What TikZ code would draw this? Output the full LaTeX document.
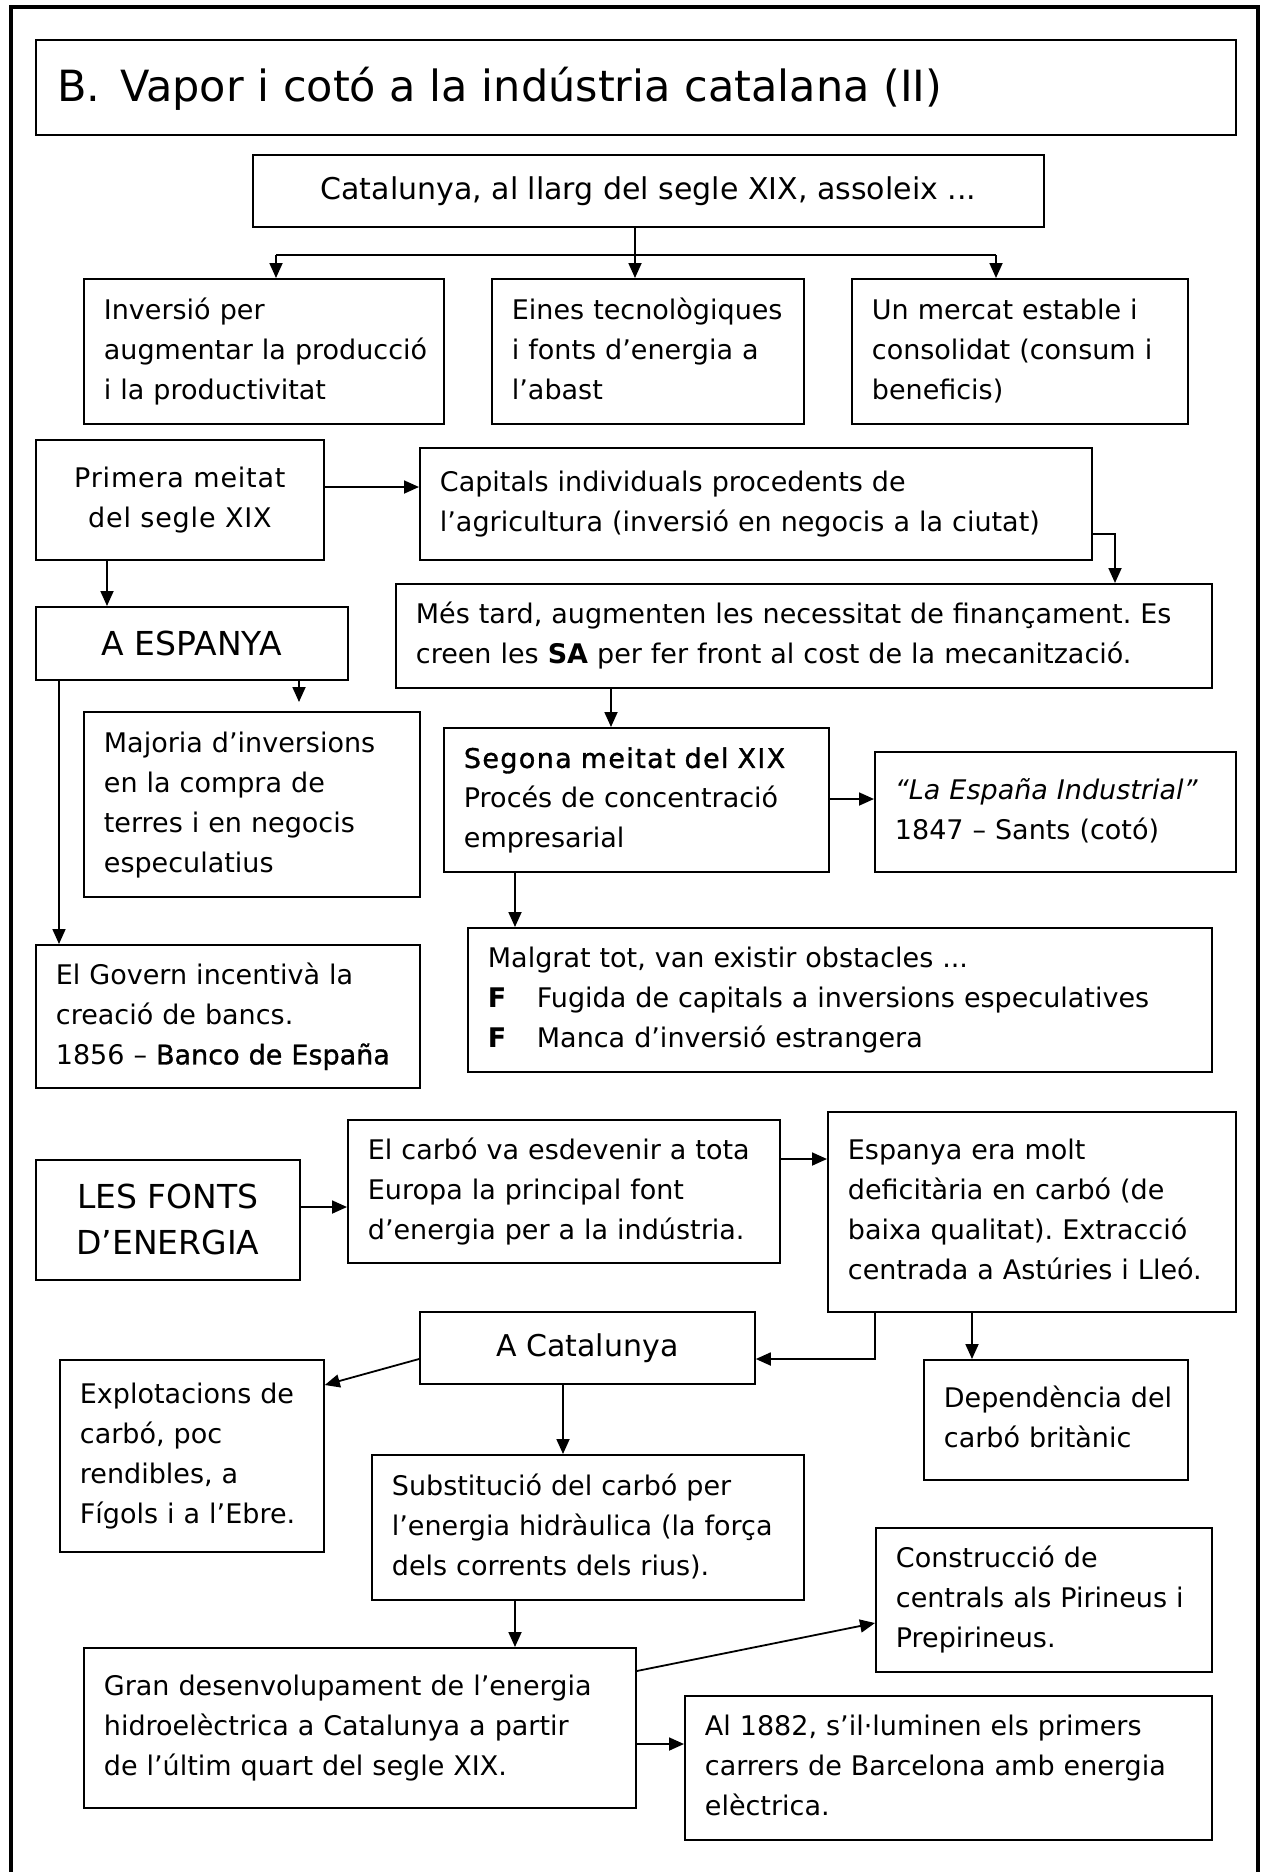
\documentclass[tikz,border=0pt]{standalone}
\usepackage{fontspec}
\setmainfont{DejaVu Sans}
\newfontfamily\semib[FakeBold=1.2]{DejaVu Sans}
\newfontfamily\semibsp[FakeBold=1.2,LetterSpace=5]{DejaVu Sans}
\newfontfamily\spc[LetterSpace=3]{DejaVu Sans}
\usetikzlibrary{arrows.meta}
\newcommand\bodyfont{\fontsize{27}{40}\selectfont}
\newcommand\bigfont{\fontsize{30}{45}\selectfont}
\newcommand\capsfont{\fontsize{33}{46}\selectfont}
\newcommand\titlefont{\fontsize{43}{50}\selectfont}
\newcommand\tb[1]{\begin{tabular}{@{}l@{}}#1\end{tabular}}
\newcommand\bF{\makebox[49pt][l]{\textbf{F}}}
\begin{document}
\frenchspacing
\begin{tikzpicture}[x=1pt,y=-1pt,
  box/.style={draw, line width=1.8pt, anchor=north west, inner xsep=20pt, inner ysep=0pt, align=left, font=\bodyfont},
  cbox/.style={draw, line width=1.8pt, anchor=north west, inner sep=0pt, align=center, font=\bodyfont},
  conn/.style={line width=1.8pt},
  arr/.style={line width=1.8pt, -{Triangle[length=15pt,width=13pt]}}]
\useasboundingbox (0,0) rectangle (1261,1872);
% outer frame (open at the bottom)
\draw[line width=3.5pt] (11,1880) -- (11,7) -- (1258,7) -- (1258,1880);

% title
\node[draw, line width=1.8pt, anchor=north west, minimum width=1200pt, minimum height=95pt, inner sep=0pt] (titlebox) at (35,39) {};
\node[anchor=base west, inner sep=0pt, font=\titlefont] (title) at (57,101) {B.\hspace{6pt} Vapor i cotó a la indústria catalana (II)};

% top part
\node[cbox, font=\bigfont, minimum width=791pt, minimum height=72pt] (cat) at (252,154) {Catalunya, al llarg del segle XIX, assoleix ...};
\node[box, minimum width=360pt, minimum height=145pt, text width=320pt] (inv) at (83,278) {\tb{Inversió per\\augmentar la producció\\i la productivitat}};
\node[box, minimum width=312pt, minimum height=145pt, text width=272pt] (eines) at (491,278) {\tb{Eines tecnològiques\\i fonts d’energia a\\l’abast}};
\node[box, minimum width=336pt, minimum height=145pt, text width=296pt] (mercat) at (851,278) {\tb{Un mercat estable i\\consolidat (consum i\\beneficis)}};

\coordinate (tl) at (276,255);
\coordinate (tm) at (635,255);
\coordinate (tr) at (996,255);
\draw[conn] (tl) -- (tr);
\draw[arr] (cat.south -| tm) -- (eines.north -| tm);
\draw[arr] (tl) -- (inv.north -| tl);
\draw[arr] (tr) -- (mercat.north -| tr);

% first half
\node[cbox, font=\bodyfont\spc, minimum width=288pt, minimum height=120pt] (prim) at (35,439) {Primera meitat\\del segle XIX};
\node[box, minimum width=672pt, minimum height=112pt, text width=632pt] (cap) at (419,447) {\tb{Capitals individuals procedents de\\l’agricultura (inversió en negocis a la ciutat)}};
\node[box, minimum width=816pt, minimum height=104pt, text width=776pt] (mes) at (395,583) {\tb{Més tard, augmenten les necessitat de finançament. Es\\creen les \textbf{SA} per fer front al cost de la mecanització.}};
\node[cbox, font=\capsfont, minimum width=312pt, minimum height=73pt] (esp) at (35,606) {A ESPANYA};
\node[box, minimum width=336pt, minimum height=185pt, text width=296pt] (maj) at (83,711) {\tb{Majoria d’inversions\\en la compra de\\terres i en negocis\\especulatius}};
\node[box, minimum width=384pt, minimum height=143pt, text width=344pt] (gov) at (35,944) {\tb{El Govern incentivà la\\creació de bancs.\\1856 – {\semib Banco de España}}};
\node[box, minimum width=385pt, minimum height=144pt, text width=345pt] (seg) at (443,727) {\tb{{\semibsp Segona meitat del XIX}\\Procés de concentració\\empresarial}};
\node[box, minimum width=361pt, minimum height=120pt, text width=321pt] (lae) at (874,751) {\tb{\textit{“La España Industrial”}\\1847 – Sants (cotó)}};
\node[box, minimum width=744pt, minimum height=144pt, text width=704pt] (mal) at (467,927) {\tb{Malgrat tot, van existir obstacles ...\\\bF Fugida de capitals a inversions especulatives\\\bF Manca d’inversió estrangera}};

\draw[arr] (prim.east |- 0,487) -- (cap.west |- 0,487);
\draw[arr] (cap.east |- 0,534) -| (mes.north -| 1115,0);
\draw[arr] (prim.south -| 107,0) -- (esp.north -| 107,0);
\draw[arr, shorten >=9pt] (esp.south -| 299,0) -- (maj.north -| 299,0);
\draw[arr] (esp.south -| 59,0) -- (gov.north -| 59,0);
\draw[arr] (mes.south -| 611,0) -- (seg.north -| 611,0);
\draw[arr] (seg.east |- 0,799) -- (lae.west |- 0,799);
\draw[arr] (seg.south -| 515,0) -- (mal.north -| 515,0);

% energy
\node[cbox, font=\capsfont, minimum width=264pt, minimum height=120pt] (lesf) at (35,1159) {LES FONTS\\D’ENERGIA};
\node[box, minimum width=432pt, minimum height=143pt, text width=392pt] (carb) at (347,1119) {\tb{El carbó va esdevenir a tota\\Europa la principal font\\d’energia per a la indústria.}};
\node[box, minimum width=408pt, minimum height=200pt, text width=368pt] (espa) at (827,1111) {\tb{Espanya era molt\\deficitària en carbó (de\\baixa qualitat). Extracció\\centrada a Astúries i Lleó.}};
\node[cbox, font=\bigfont, minimum width=335pt, minimum height=72pt] (acat) at (419,1311) {A Catalunya};
\node[box, minimum width=264pt, minimum height=120pt, text width=224pt] (dep) at (923,1359) {\tb{Dependència del\\carbó britànic}};
\node[box, minimum width=264pt, minimum height=192pt, text width=224pt] (expl) at (59,1359) {\tb{Explotacions de\\carbó, poc\\rendibles, a\\Fígols i a l’Ebre.}};
\node[box, minimum width=432pt, minimum height=145pt, text width=392pt] (subs) at (371,1454) {\tb{Substitució del carbó per\\l’energia hidràulica (la força\\dels corrents dels rius).}};
\node[box, minimum width=552pt, minimum height=160pt, text width=512pt] (gran) at (83,1647) {\tb{Gran desenvolupament de l’energia\\hidroelèctrica a Catalunya a partir\\de l’últim quart del segle XIX.}};
\node[box, minimum width=336pt, minimum height=144pt, text width=296pt] (cons) at (875,1527) {\tb{Construcció de\\centrals als Pirineus i\\Prepirineus.}};
\node[box, minimum width=527pt, minimum height=144pt, text width=487pt] (al) at (684,1695) {\tb{Al 1882, s’il·luminen els primers\\carrers de Barcelona amb energia\\elèctrica.}};

\draw[arr] (lesf.east |- 0,1207) -- (carb.west |- 0,1207);
\draw[arr] (carb.east |- 0,1159) -- (espa.west |- 0,1159);
\draw[arr] (espa.south -| 875,0) |- (acat.east |- 0,1359);
\draw[arr] (espa.south -| 972,0) -- (dep.north -| 972,0);
\draw[arr] (acat.west |- 0,1359) -- (expl.east |- 0,1385);
\draw[arr] (acat.south -| 563,0) -- (subs.north -| 563,0);
\draw[arr] (subs.south -| 515,0) -- (gran.north -| 515,0);
\draw[arr] (gran.east |- 0,1671) -- (cons.west |- 0,1623);
\draw[arr] (gran.east |- 0,1744) -- (al.west |- 0,1744);
\end{tikzpicture}
\end{document}
